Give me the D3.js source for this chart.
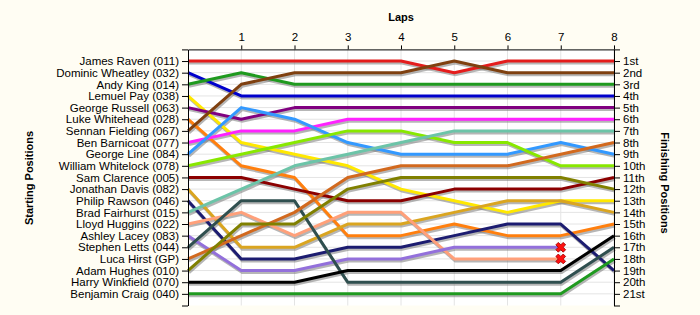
<!DOCTYPE html>
<html>
<head>
<meta charset="utf-8">
<script src="https://cdn.jsdelivr.net/npm/d3@7"></script>
<style>
  body { margin: 0; background: #fffdf3; }
  svg { display: block; font-family: "Liberation Sans", Arial, sans-serif; }
  .ejes path, .ejes line { stroke: #000; }
  .ejes text { font-size: 11.5px; fill: #000; }
  .titulo { font-size: 11px; font-weight: bold; }
</style>
</head>
<body>
<div id="graf"></div>
<script>
const drivers = [
  "James Raven (011)", "Dominic Wheatley (032)", "Andy King (014)", "Lemuel Pay (038)",
  "George Russell (063)", "Luke Whitehead (028)", "Sennan Fielding (067)", "Ben Barnicoat (077)",
  "George Line (084)", "William Whitelock (078)", "Sam Clarence (005)", "Jonathan Davis (082)",
  "Philip Rawson (046)", "Brad Fairhurst (015)", "Lloyd Huggins (022)", "Ashley Lacey (083)",
  "Stephen Letts (044)", "Luca Hirst (GP)", "Adam Hughes (010)", "Harry Winkfield (070)",
  "Benjamin Craig (040)"
]
const colores = [
  "#e41c1c", "#0000cc", "#1f9a1f", "#ffe800",
  "#800080", "#ff7f0e", "#7f4010", "#ff22ff",
  "#3399ff", "#88e800", "#8b0000", "#daa520",
  "#1c1c70", "#6cc4a8", "#ffa07a", "#9370db",
  "#2f4f4f", "#d2691e", "#808000", "#000000",
  "#1f9a1f"
]
// position of each driver at laps 0..8 (null = retired)
const posiciones = [
  [1, 1, 1, 1, 1, 2, 1, 1, 1],
  [2, 4, 4, 4, 4, 4, 4, 4, 4],
  [3, 2, 3, 3, 3, 3, 3, 3, 3],
  [4, 8, 9, 10, 12, 13, 14, 13, 13],
  [5, 6, 5, 5, 5, 5, 5, 5, 5],
  [6, 10, 11, 16, 16, 15, 16, 16, 15],
  [7, 3, 2, 2, 2, 1, 2, 2, 2],
  [8, 7, 7, 6, 6, 6, 6, 6, 6],
  [9, 5, 6, 8, 9, 9, 9, 8, 9],
  [10, 9, 8, 7, 7, 8, 8, 10, 10],
  [11, 11, 12, 13, 13, 12, 12, 12, 11],
  [12, 17, 17, 15, 15, 14, 13, 13, 14],
  [13, 18, 18, 17, 17, 16, 15, 15, 19],
  [14, 12, 10, 9, 8, 7, 7, 7, 7],
  [15, 14, 16, 14, 14, 18, 18, 18, null],
  [16, 19, 19, 18, 18, 17, 17, 17, null],
  [17, 13, 13, 20, 20, 20, 20, 20, 17],
  [18, 16, 14, 11, 10, 10, 10, 9, 8],
  [19, 15, 15, 12, 11, 11, 11, 11, 12],
  [20, 20, 20, 19, 19, 19, 19, 19, 16],
  [21, 21, 21, 21, 21, 21, 21, 21, 18]
]
const vueltas = [1, 2, 3, 4, 5, 6, 7, 8]
const finales = [
  "1st", "2nd", "3rd", "4th", "5th", "6th", "7th", "8th", "9th", "10th", "11th",
  "12th", "13th", "14th", "15th", "16th", "17th", "18th", "19th", "20th", "21st"
]
const retirados = ["Lloyd Huggins (022)", "Ashley Lacey (083)"]

const anchoTotal = 700
const altoTotal = 315
const margins = { left: 188, top: 49.4, right: 86, bottom: 9.5 }
const ancho = anchoTotal - margins.left - margins.right
const alto = altoTotal - margins.top - margins.bottom

const svg = d3.select("#graf")
  .append("svg")
  .attr("width", anchoTotal)
  .attr("height", altoTotal)

const g = svg.append("g")
  .attr("transform", `translate(${margins.left}, ${margins.top})`)

const x = d3.scaleLinear().domain([0, 8]).range([0, ancho])
const y = d3.scaleLinear().domain([0, 22]).range([0, alto])

g.append("rect")
  .attr("width", ancho)
  .attr("height", alto)
  .attr("fill", "#ffffff")

// grid
g.selectAll(".gh").data(d3.range(1, 22)).join("line")
  .attr("x1", 0).attr("x2", ancho)
  .attr("y1", (d) => y(d)).attr("y2", (d) => y(d))
  .attr("stroke", "#e4e4e4")
g.selectAll(".gv").data(vueltas).join("line")
  .attr("x1", (d) => x(d)).attr("x2", (d) => x(d))
  .attr("y1", 0).attr("y2", alto)
  .attr("stroke", "#e4e4e4")

// lines
const linea = d3.line()
  .defined((d) => d.p != null)
  .x((d) => x(d.lap))
  .y((d) => y(d.p))

const series = drivers.map((name, i) => ({
  name,
  color: colores[i],
  pts: posiciones[i].map((p, lap) => ({ lap, p }))
}))

g.selectAll(".sombra").data(series).join("path")
  .attr("d", (d) => linea(d.pts))
  .attr("transform", "translate(1, 2)")
  .attr("fill", "none")
  .attr("stroke", "#7a7a7a")
  .attr("stroke-opacity", 0.55)
  .attr("stroke-width", 3)

g.selectAll(".linea").data(series).join("path")
  .attr("d", (d) => linea(d.pts))
  .attr("fill", "none")
  .attr("stroke", (d) => d.color)
  .attr("stroke-width", 3)
  .attr("stroke-linejoin", "round")

// retired markers
const cruz = d3.symbol().type(d3.symbolCross).size(60)
retirados.forEach((name) => {
  const pts = posiciones[drivers.indexOf(name)]
  let last = 0
  pts.forEach((p, lap) => { if (p != null) last = lap })
  g.append("path")
    .attr("d", cruz())
    .attr("transform", `translate(${x(last)}, ${y(pts[last])}) rotate(45)`)
    .attr("fill", "#ff1010")
    .attr("stroke", "#a00000")
    .attr("stroke-width", 0.8)
})

// axes
g.append("g")
  .attr("class", "ejes")
  .call(d3.axisTop(x).tickValues(vueltas).tickSize(4).tickSizeOuter(0))
  .call((s) => s.selectAll("text").attr("dy", "-0.1em"))

g.append("g")
  .attr("class", "ejes")
  .call(d3.axisLeft(y).tickValues(d3.range(0, 23)).tickSize(6).tickSizeOuter(0)
    .tickFormat((d) => drivers[d - 1] || ""))

g.append("g")
  .attr("class", "ejes")
  .attr("transform", `translate(${ancho}, 0)`)
  .call(d3.axisRight(y).tickValues(d3.range(0, 23)).tickSize(6).tickSizeOuter(0)
    .tickFormat((d) => finales[d - 1] || ""))

// titles
svg.append("text")
  .attr("class", "titulo")
  .attr("x", 401).attr("y", 21)
  .attr("text-anchor", "middle")
  .text("Laps")

svg.append("text")
  .attr("class", "titulo")
  .attr("transform", "translate(33, 178) rotate(-90)")
  .attr("text-anchor", "middle")
  .text("Starting Positions")

svg.append("text")
  .attr("class", "titulo")
  .attr("transform", "translate(661, 183) rotate(90)")
  .attr("text-anchor", "middle")
  .text("Finishing Positions")
</script>
</body>
</html>
